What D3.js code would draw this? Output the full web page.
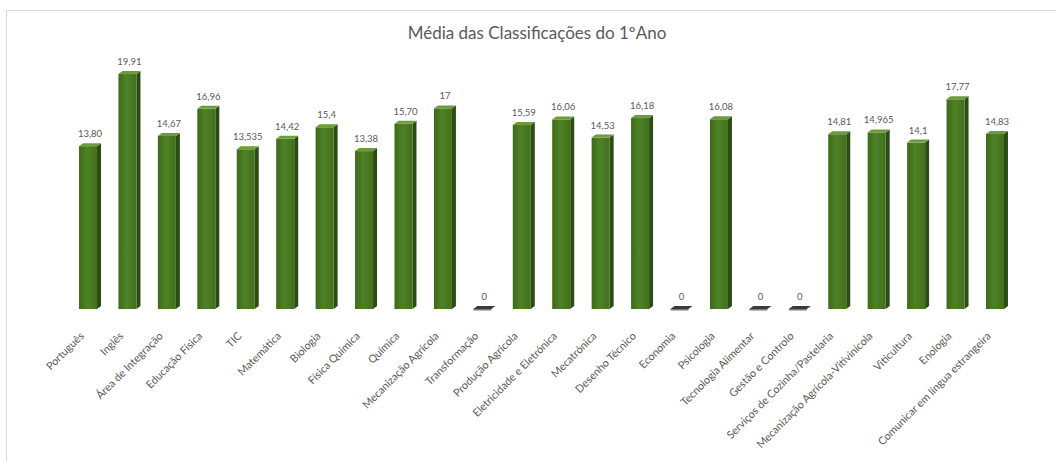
<!DOCTYPE html>
<html>
<head>
<meta charset="utf-8">
<script src="https://cdn.jsdelivr.net/npm/d3@7"></script>
<style>
  html, body { margin: 0; padding: 0; background: #fff; }
  svg { display: block; }
  text { font-family: Lato, "Open Sans", sans-serif; fill: #595959; }
</style>
</head>
<body>
<svg id="chart" width="1056" height="461"></svg>
<script>
// Disciplinas e médias do 1.º ano
const categories = [
  "Português", "Inglês", "Área de Integração", "Educação Física", "TIC",
  "Matemática", "Biologia", "Física Química", "Química", "Mecanização Agrícola",
  "Transformação", "Produção Agrícola", "Eletricidade e Eletrónica", "Mecatrónica",
  "Desenho Técnico", "Economia", "Psicologia", "Tecnologia Alimentar",
  "Gestão e Controlo", "Serviços de Cozinha/Pastelaria",
  "Mecanização Agrícola-Vitivinícola", "Viticultura", "Enologia",
  "Comunicar em língua estrangeira"
];
const values = [
  13.80, 19.91, 14.67, 16.96, 13.535,
  14.42, 15.4, 13.38, 15.70, 17,
  0, 15.59, 16.06, 14.53,
  16.18, 0, 16.08, 0,
  0, 14.81,
  14.965, 14.1, 17.77,
  14.83
];
const valueLabels = [
  "13,80", "19,91", "14,67", "16,96", "13,535",
  "14,42", "15,4", "13,38", "15,70", "17",
  "0", "15,59", "16,06", "14,53",
  "16,18", "0", "16,08", "0",
  "0", "14,81",
  "14,965", "14,1", "17,77",
  "14,83"
];
const title = "Média das Classificações do 1ºAno";

const svg = d3.select("#chart");

// chart frame
svg.append("rect")
  .attr("x", 6.5).attr("y", 10.5)
  .attr("width", 1100).attr("height", 500)
  .attr("fill", "none").attr("stroke", "#d9d9d9");

const defs = svg.append("defs");
const grad = defs.append("linearGradient").attr("id", "front")
  .attr("x1", "0").attr("x2", "1").attr("y1", "0").attr("y2", "0");
grad.append("stop").attr("offset", "0").attr("stop-color", "#3d6a1b");
grad.append("stop").attr("offset", "0.45").attr("stop-color", "#4f8225");
grad.append("stop").attr("offset", "1").attr("stop-color", "#426f1e");

const x = d3.scaleBand().domain(categories).range([70.3, 1016.7]).padding(0);
const y = d3.scaleLinear().domain([0, 20]).range([309, 73]);

const frontW = 18, sideW = 4, depth = 3;

const g = svg.append("g");
const bars = g.selectAll("g.bar").data(categories).join("g").attr("class", "bar");

bars.each(function(c, i) {
  const sel = d3.select(this);
  const v = values[i];
  const cx = x(c) + x.bandwidth() / 2;
  const x0 = cx - 11, x1 = x0 + frontW, x2 = x1 + sideW;
  const yt = y(v), yb = y(0);
  if (v > 0) {
    // side face
    sel.append("path")
      .attr("d", `M${x1},${yt} L${x2},${yt - depth} L${x2},${yb - depth} L${x1},${yb} Z`)
      .attr("fill", "#2b4c12");
    // front face
    sel.append("rect")
      .attr("x", x0).attr("y", yt).attr("width", frontW).attr("height", yb - yt)
      .attr("fill", "url(#front)");
    // top face
    sel.append("path")
      .attr("d", `M${x0},${yt} L${x0 + sideW},${yt - depth} L${x2},${yt - depth} L${x1},${yt} Z`)
      .attr("fill", "#6c9c3c");
  } else {
    // flat slab for zero values
    sel.append("path")
      .attr("d", `M${x0},${yb} L${x0 + sideW},${yb - depth} L${x2},${yb - depth} L${x1},${yb} Z`)
      .attr("fill", "#3a3a3a");
    sel.append("rect")
      .attr("x", x0).attr("y", yb).attr("width", frontW).attr("height", 1.5)
      .attr("fill", "#7a7a7a");
  }
  // value label
  sel.append("text")
    .attr("x", cx).attr("y", yt - depth - 6)
    .attr("text-anchor", "middle")
    .attr("font-size", "9.5px")
    .text(valueLabels[i]);
});

// category axis labels, rotated
const axis = svg.append("g").attr("transform", `translate(0, ${y(0)})`)
  .call(d3.axisBottom(x).tickSize(0).tickPadding(0));
axis.select(".domain").remove();
axis.selectAll(".tick text")
  .attr("font-family", "Lato, 'Open Sans', sans-serif")
  .attr("font-size", "10.8px")
  .attr("fill", "#595959")
  .attr("text-anchor", "end")
  .attr("dy", "0.35em")
  .attr("transform", "translate(-8, 25) rotate(-45)");

svg.append("text")
  .attr("x", 537).attr("y", 39)
  .attr("text-anchor", "middle")
  .attr("font-size", "17px")
  .text(title);
</script>
</body>
</html>
